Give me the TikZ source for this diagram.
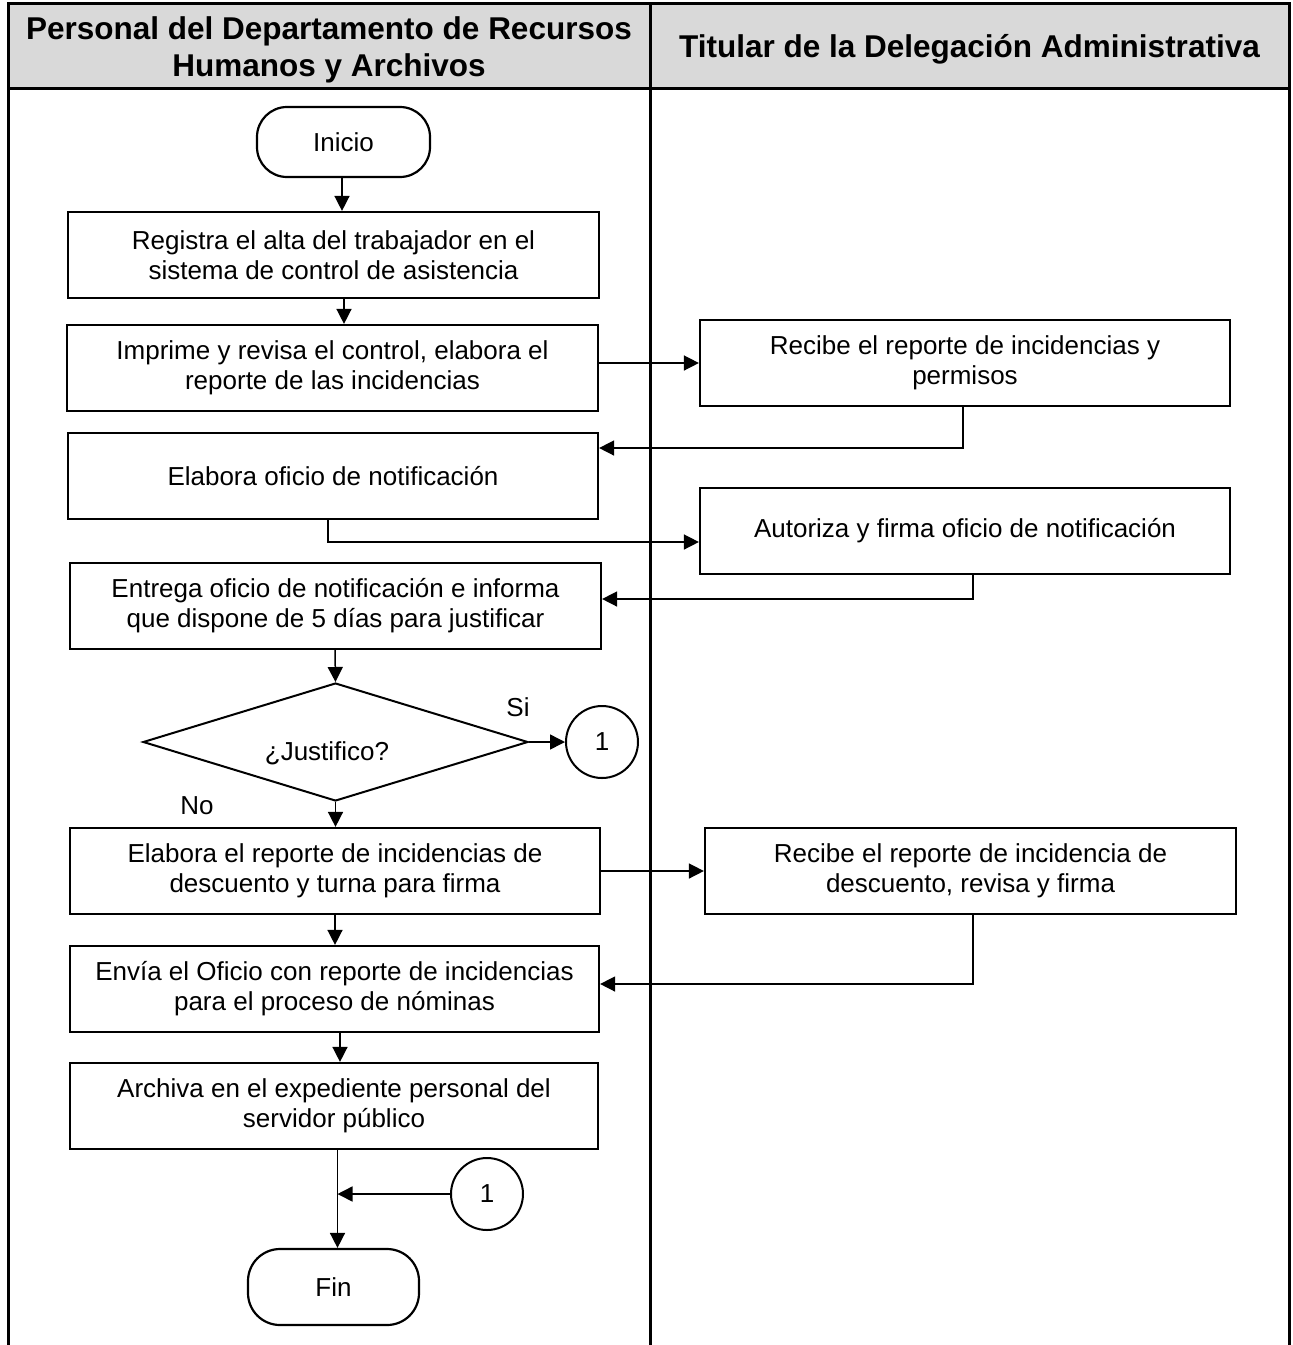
\documentclass[tikz,border=0pt]{standalone}
\usepackage{fontspec}
\setmainfont{Liberation Sans}
\usetikzlibrary{arrows.meta,shapes.geometric,calc}
\definecolor{hdr}{HTML}{D9D9D9}
\begin{document}
\begin{tikzpicture}[x=1pt,y=-1pt,
  proc/.style={draw=black,line width=2.2pt,inner sep=0pt,align=center,
    font=\fontsize{26}{30}\selectfont,minimum height=86pt},
  term/.style={proc,rounded corners=30pt},
  conn/.style={draw=black,line width=2pt,circle,inner sep=0pt,minimum size=72pt,
    font=\fontsize{26}{30}\selectfont},
  lbl/.style={inner sep=0pt,font=\fontsize{26}{30}\selectfont},
  hd/.style={inner sep=0pt,align=center,font=\fontsize{31.5}{37}\selectfont\bfseries},
  arr/.style={draw=black,line width=1.5pt,-{Triangle[length=15pt,width=15pt]}},
  tbl/.style={draw=black,line width=3pt}]
\useasboundingbox (0,0) rectangle (1293,1345);
% table
\fill[hdr] (8,3) rectangle (1289,88);
\draw[tbl] (8,1345) -- (8,3) -- (1289,3) -- (1289,1345);
\draw[tbl] (8,88) -- (1289,88);
\draw[tbl] (650,3) -- (650,1345);
\node[hd] (h1) at (329,49.5) {Personal del Departamento de Recursos\\Humanos y Archivos};
\node[hd] (h2) at (969.5,49) {Titular de la Delegación Administrativa};
% nodes
\node[term,minimum width=173pt,minimum height=70pt] (ini) at (343.5,142) {Inicio};
\node[proc,minimum width=531pt] (b1) at (333.5,255) {Registra el alta del trabajador en el\\sistema de control de asistencia};
\node[proc,minimum width=531pt] (b2) at (332.5,368) {Imprime y revisa el control, elabora el\\reporte de las incidencias};
\node[proc,minimum width=530pt] (r1) at (965,363) {Recibe el reporte de incidencias y\\permisos};
\node[proc,minimum width=530pt] (b3) at (333,476) {Elabora oficio de notificación};
\node[proc,minimum width=530pt] (r2) at (965,531) {Autoriza y firma oficio de notificación};
\node[proc,minimum width=531pt] (b4) at (335.5,606) {Entrega oficio de notificación e informa\\que dispone de 5 días para justificar};
\node[diamond,draw=black,line width=2pt,inner sep=0pt,minimum width=385pt,minimum height=118pt] (d) at (335.5,742) {};
\node[lbl] (dt) at (327,753) {¿Justifico?};
\node[conn] (c1) at (602,742) {1};
\node[lbl] (si) at (518,707) {Si};
\node[lbl] (no) at (197,806) {No};
\node[proc,minimum width=530pt] (b5) at (335,871) {Elabora el reporte de incidencias de\\descuento y turna para firma};
\node[proc,minimum width=531pt] (r3) at (970.5,871) {Recibe el reporte de incidencia de\\descuento, revisa y firma};
\node[proc,minimum width=529pt] (b6) at (334.5,989) {Envía el Oficio con reporte de incidencias\\para el proceso de nóminas};
\node[proc,minimum width=528pt] (b7) at (334,1106) {Archiva en el expediente personal del\\servidor público};
\node[conn] (c2) at (487,1194) {1};
\node[term,minimum width=171pt,minimum height=76pt,rounded corners=32pt] (fin) at (333.5,1287) {Fin};
\coordinate (m) at ([xshift=3.5pt]b7.south);
% connectors
\draw[arr] ([xshift=-1.5pt]ini.south) -- ([xshift=-1.5pt]ini.south |- b1.north);
\draw[arr] ([xshift=10.5pt]b1.south) -- ([xshift=10.5pt]b1.south |- b2.north);
\draw[arr] (r1.west -| b2.east) -- (r1.west);
\draw[arr] ([xshift=-2pt]r1.south) |- ([yshift=28pt]b3.east);
\draw[arr] ([xshift=-5pt]b3.south) |- ([yshift=-11pt]r2.west);
\draw[arr] ([xshift=8pt]r2.south) |- ([yshift=7pt]b4.east);
\draw[arr] ([xshift=-0.5pt]b4.south) -- (d.north);
\draw[arr] (d.east) -- (c1.west);
\draw[arr] (d.south) -- (d.south |- b5.north);
\draw[arr] (b5.east) -- (r3.west);
\draw[arr] ([xshift=2.5pt]r3.south) |- ([yshift=5pt]b6.east);
\draw[arr] (b5.south) -- (b5.south |- b6.north);
\draw[arr] ([xshift=5.5pt]b6.south) -- ([xshift=5.5pt]b6.south |- b7.north);
\draw[arr] (m) -- (m |- fin.north);
\draw[arr] (c2.west) -- (c2.west -| m);
\end{tikzpicture}
\end{document}
